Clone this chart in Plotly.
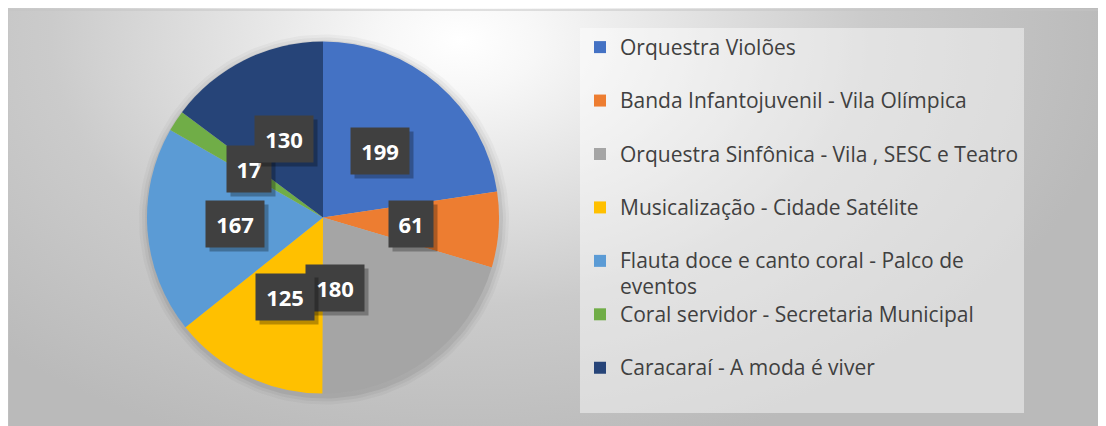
import numpy as np
import plotly.graph_objects as go

# ---- data ----
categories = [
    "Orquestra Violões",
    "Banda Infantojuvenil - Vila Olímpica",
    "Orquestra Sinfônica - Vila , SESC e Teatro",
    "Musicalização - Cidade Satélite",
    "Flauta doce e canto coral - Palco de eventos",
    "Coral servidor - Secretaria Municipal",
    "Caracaraí - A moda é viver",
]
values = [199, 61, 180, 125, 167, 17, 130]
colors = ["#4472C4", "#ED7D31", "#A5A5A5", "#FFC000", "#5B9BD5", "#70AD47", "#264478"]

# ---- layout constants ----
W, H = 1106, 426
OFF = 8                               # page offset of the plot div (px)
CX, CY, R = 323, 217.5, 176          # pie centre / radius in screen px
label_shift = {2: -41}               # manual nudge of one data label (px)
LEG_FS = 21                           # legend text size


def wrap(name):
    if name.startswith("Flauta"):
        body = name.replace("Palco de ", "Palco de<br>")
        parts = body.split("<br>")
        return "<br>".join(f"<span style='font-size:{LEG_FS}px'>{p}</span>" for p in parts)
    return f"<span style='font-size:{LEG_FS}px'>{name}</span><br> "


legend_labels = [wrap(c) for c in categories]

fig = go.Figure()

# background gradient (decoration, screen-pixel axes)
gx0, gx1, gy0, gy1 = -200, 1120, -390, 470
fig.add_trace(go.Scatter(
    x=[gx0, gx1, gx1, gx0, gx0], y=[gy0, gy0, gy1, gy1, gy0],
    mode="lines", line=dict(width=0), fill="toself",
    fillgradient=dict(type="radial", colorscale=[
        [0.0, "#ffffff"], [0.12, "#f7f7f7"], [0.40, "#dedede"],
        [0.62, "#cbcbcb"], [1.0, "#bababa"]]),
    hoverinfo="skip", showlegend=False))

# soft pie shadow
t = np.linspace(0, 2 * np.pi, 181)
for grow, alpha in [(9, 0.03), (6, 0.04), (3, 0.06)]:
    fig.add_trace(go.Scatter(
        x=CX + 1 + (R + grow) * np.cos(t), y=CY + 2 + (R + grow) * np.sin(t),
        mode="lines", line=dict(width=0), fill="toself",
        fillcolor=f"rgba(0,0,0,{alpha})", hoverinfo="skip", showlegend=False))

fig.add_trace(go.Pie(
    labels=legend_labels, values=values, sort=False, direction="clockwise",
    rotation=0, marker=dict(colors=colors, line=dict(width=0)),
    textinfo="none", hoverinfo="value",
    domain=dict(x=[(CX - R - OFF) / W, (CX + R - OFF) / W],
                y=[1 - (CY + R - OFF) / H, 1 - (CY - R - OFF) / H]),
))

# data labels
total = sum(values)
cum = 0
annotations = []
lab_font = dict(family="Open Sans", size=22, color="white", weight="bold")
for i, v in enumerate(values):
    mid = np.deg2rad((cum + v / 2) / total * 360)
    cum += v
    px = CX + 0.5 * R * np.sin(mid) + label_shift.get(i, 0)
    py = CY - 0.5 * R * np.cos(mid)
    txt = str(v)
    common = dict(x=px, y=py, xref="x", yref="y", text=txt, showarrow=False,
                  width=14 * len(txt), borderpad=8)
    annotations.append(dict(common, xshift=4, yshift=-4, bgcolor="rgba(0,0,0,0.28)",
                            font=dict(lab_font, color="rgba(0,0,0,0)")))
    annotations.append(dict(common, bgcolor="#404040", font=lab_font))

fig.update_layout(
    width=W, height=H, margin=dict(l=0, r=0, t=0, b=0),
    paper_bgcolor="white", plot_bgcolor="rgba(0,0,0,0)",
    xaxis=dict(range=[OFF, OFF + W], domain=[0, 1], visible=False, fixedrange=True),
    yaxis=dict(range=[OFF + H, OFF], domain=[0, 1], visible=False, fixedrange=True),
    showlegend=True,
    legend=dict(x=(580 - OFF) / W, y=1 - (28 - OFF) / H, xanchor="left", yanchor="top",
                bgcolor="rgba(255,255,255,0.45)", borderwidth=0, valign="top",
                font=dict(family="Open Sans", size=19.4, color="#404040"),
                traceorder="normal"),
    shapes=[dict(type="rect", xref="x", yref="y", x0=8, x1=1120, y0=10, y1=440,
                 line=dict(color="#c4c4c4", width=1), layer="above")],
    annotations=annotations,
)

fig.write_html("out.html")
